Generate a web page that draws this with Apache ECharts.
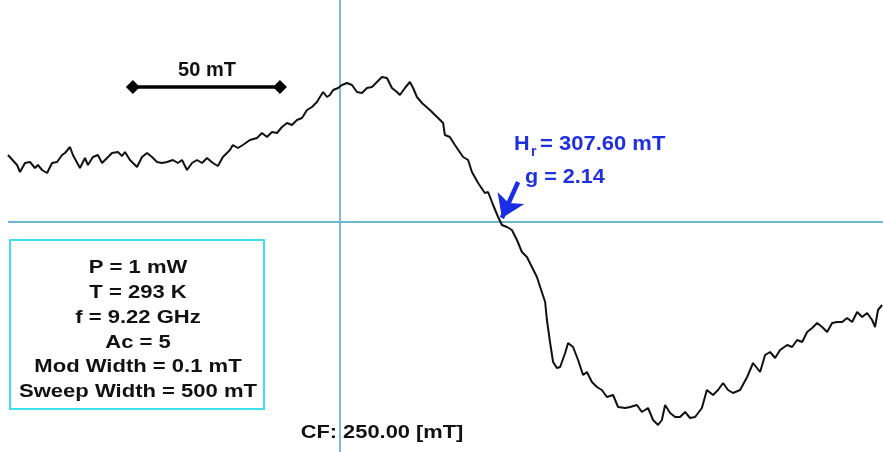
<!DOCTYPE html>
<html>
<head>
<meta charset="utf-8">
<script src="https://cdn.jsdelivr.net/npm/echarts@6/dist/echarts.min.js"></script>
<style>html,body{margin:0;padding:0;background:#fff;}#c{width:883px;height:452px;}</style>
</head>
<body>
<div id="c"></div>
<script>
// Magnetic field (mT) and EPR derivative signal (arb. units)
const field = [137.1,140.2,141.2,142.9,144.6,146.3,147.3,148.7,150.4,152.1,153.8,155.5,156.5,158.2,159.2,161.6,163.3,164.3,166.0,167.7,169.1,170.8,172.5,174.5,175.9,176.9,178.6,181.0,182.7,184.4,186.1,187.8,189.5,191.2,193.2,194.9,196.3,198.0,199.7,201.4,203.1,204.8,206.8,208.5,210.2,212.6,213.6,215.3,217.0,219.4,221.8,223.5,225.2,226.9,228.6,230.3,232.0,233.7,235.4,237.1,238.8,240.5,242.2,243.2,244.3,245.6,246.6,247.7,249.4,250.7,252.4,254.1,255.8,257.5,259.2,260.9,262.6,264.3,266.0,267.7,269.4,270.4,272.1,273.8,274.9,276.2,277.9,280.6,283.4,285.1,285.7,287.4,289.1,291.9,293.6,294.9,297.0,299.3,300.4,302.1,303.8,305.1,306.8,308.5,310.2,311.9,313.6,315.3,317.0,318.1,319.8,320.4,321.5,322.5,323.8,324.9,326.6,327.6,329.3,331.0,332.7,334.0,335.7,337.4,339.1,340.8,342.9,344.6,347.0,348.7,351.0,352.7,354.8,356.5,358.2,359.5,360.6,362.3,364.0,365.7,367.4,369.1,370.8,373.1,374.8,376.9,378.6,380.3,382.0,383.7,386.1,388.5,390.5,392.9,394.6,396.3,398.0,399.7,402.1,403.8,405.5,407.2,408.9,410.6,412.3,414.0,415.7,417.4,419.1,420.8,422.5,424.2,425.9,427.6,429.3,431.0,432.0,433.0,434.4];
const signal = [67,57,50,59,60,54,57,52,49,59,60,67,69,75,67,54,64,57,65,67,59,64,69,70,66,70,62,55,65,69,65,60,59,60,62,59,62,52,59,62,59,64,59,56,65,72,77,74,77,82,84,89,85,90,89,95,99,97,102,104,112,115,120,125,130,125,127,132,134,137,139,137,130,129,134,135,140,145,144,134,130,127,134,140,134,125,119,112,104,99,87,85,77,65,62,50,39,29,30,17,5,-3,-5,-8,-18,-30,-35,-45,-55,-65,-80,-98,-121,-140,-146,-145,-131,-121,-125,-138,-153,-150,-160,-165,-168,-175,-173,-185,-186,-185,-183,-190,-186,-198,-203,-198,-183,-191,-195,-195,-190,-196,-195,-186,-168,-173,-168,-161,-168,-171,-168,-155,-141,-150,-133,-130,-136,-128,-123,-125,-118,-120,-110,-106,-101,-105,-110,-101,-100,-100,-96,-100,-90,-95,-91,-98,-105,-88,-83];

const centerField = 250.00;     // CF
const resonanceField = 307.60;  // Hr
const gValue = 2.14;
const scaleBarStart = 179.6;
const scaleBarLength = 50;      // mT
const scaleBarLevel = 135;
const params = ["P = 1 mW","T = 293 K","f = 9.22 GHz","Ac = 5","Mod Width = 0.1 mT","Sweep Width = 500 mT"];

const xMin = 134.4, xMax = 434.7, yMin = -230, yMax = 222;

const curve = field.map((f,i)=>[f, signal[i]]);

const chart = echarts.init(document.getElementById('c'), null, {renderer:'canvas'});
const F = '"Liberation Sans", Arial, sans-serif';

const graphics = [
  {type:'rect', shape:{x:10,y:240,width:254,height:169}, style:{fill:'#fff', stroke:'#40e0ea', lineWidth:2}, z:10}
];
params.forEach((t,i)=>{
  graphics.push({type:'text', x:138, y:268 + i*24.8, scaleX:1.16, z:11,
    style:{text:t, font:'bold 19px ' + F, fill:'#111', textAlign:'center', textVerticalAlign:'middle'}});
});
graphics.push({type:'text', x:382, y:433, scaleX:1.15, z:11,
  style:{text:'CF: ' + centerField.toFixed(2) + ' [mT]', font:'bold 19px ' + F, fill:'#111', textAlign:'center', textVerticalAlign:'middle'}});
graphics.push({type:'text', x:207, y:70, z:11,
  style:{text:scaleBarLength + ' mT', font:'bold 20px ' + F, fill:'#111', textAlign:'center', textVerticalAlign:'middle'}});
graphics.push({type:'text', x:514, y:144, scaleX:1.08, z:11,
  style:{text:'H', font:'bold 20px ' + F, fill:'#2030e0', textAlign:'left', textVerticalAlign:'middle'}});
graphics.push({type:'text', x:531, y:152, z:11,
  style:{text:'r', font:'bold 14px ' + F, fill:'#2030e0', textAlign:'left', textVerticalAlign:'middle'}});
graphics.push({type:'text', x:540, y:144, scaleX:1.1, z:11,
  style:{text:'= ' + resonanceField.toFixed(2) + ' mT', font:'bold 20px ' + F, fill:'#2030e0', textAlign:'left', textVerticalAlign:'middle'}});
graphics.push({type:'text', x:525, y:177, scaleX:1.08, z:11,
  style:{text:'g = ' + gValue.toFixed(2), font:'bold 20px ' + F, fill:'#2030e0', textAlign:'left', textVerticalAlign:'middle'}});

chart.setOption({
  animation:false,
  backgroundColor:'#fff',
  grid:{left:0,right:0,top:0,bottom:0},
  xAxis:{type:'value', min:xMin, max:xMax, show:false},
  yAxis:{type:'value', min:yMin, max:yMax, show:false},
  graphic:graphics,
  series:[
    {
      type:'line', data:curve, showSymbol:false, symbol:'none',
      lineStyle:{color:'#111', width:2}, z:5,
      markLine:{
        silent:true, symbol:['none','none'], animation:false,
        label:{show:false},
        data:[
          [{coord:[centerField, yMax], lineStyle:{color:'#4ea3d3', width:1.5, type:'solid'}},
           {coord:[centerField, yMin]}],
          [{coord:[field[0], 0], lineStyle:{color:'#6cb6cf', width:2, type:'solid'}},
           {coord:[xMax, 0]}]
        ]
      }
    },
    {
      type:'line', data:[[scaleBarStart, scaleBarLevel],[scaleBarStart + scaleBarLength, scaleBarLevel]],
      symbol:'diamond', symbolSize:14, showSymbol:true,
      itemStyle:{color:'#000'}, lineStyle:{color:'#000', width:3.5}, z:6
    },
    {
      type:'line', data:[[xMin, yMin - 10]], symbol:'none', z:7,
      markLine:{
        silent:true, animation:false, symbol:['none','arrow'], symbolSize:22,
        label:{show:false},
        itemStyle:{color:'#1a2ee6'},
        lineStyle:{color:'#1a2ee6', width:4.5, type:'solid'},
        data:[[{coord:[310.6, 40]},{coord:[305.1, 4]}]]
      }
    }
  ]
});
</script>
</body>
</html>
